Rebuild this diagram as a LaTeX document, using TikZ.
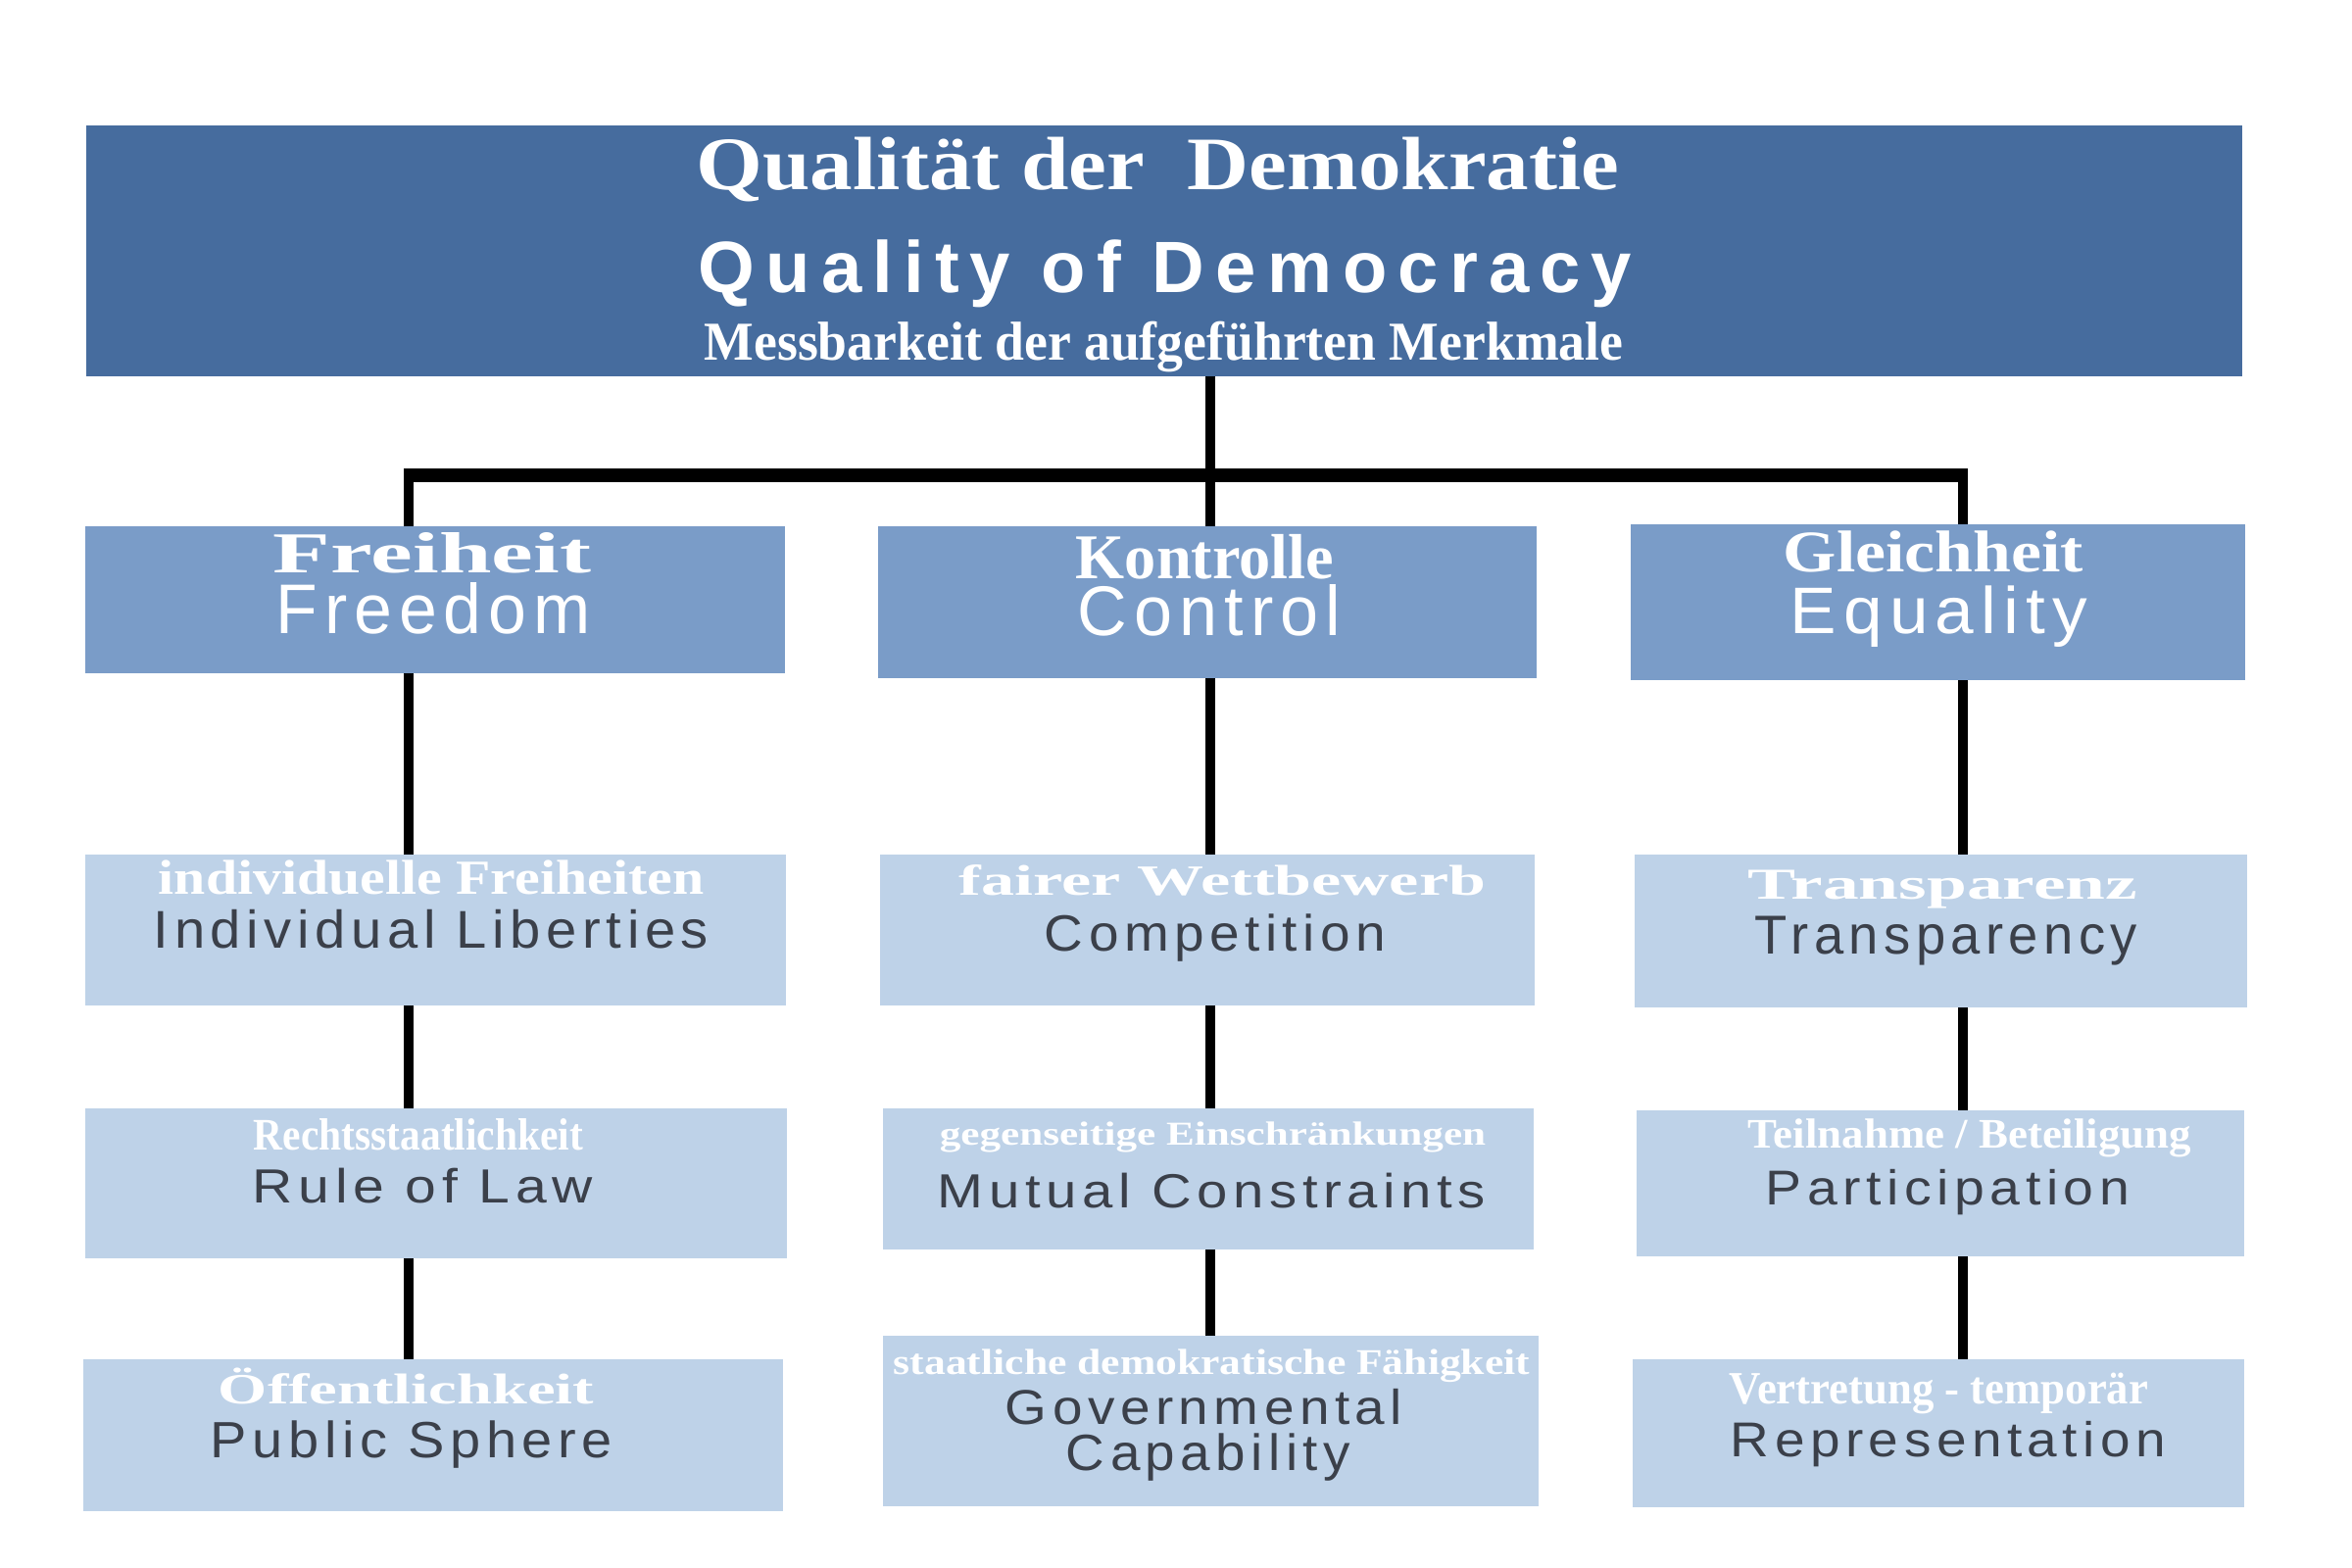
\documentclass[tikz,border=0pt]{standalone}
\usepackage{fontspec}
\usepackage{graphicx}
\setmainfont{Liberation Serif}
\newfontfamily\sansA[LetterSpace=10]{Liberation Sans}
\newfontfamily\sansB[LetterSpace=15]{Liberation Sans}
\newlength\fitlen
\newcommand\fitw[2]{\settowidth\fitlen{#2}\pgfmathsetmacro\fitr{#1*0.28453/\fitlen}\scalebox{\fitr}[1]{#2}}
\newcommand\fs[1]{\fontsize{#1}{#1}\selectfont}
\newcommand\DE[2]{\fs{#1}\bfseries #2}
\newcommand\EN[2]{\fs{#1}\sansA #2}
\newcommand\ENW[2]{\fs{#1}\sansB\bfseries #2}
\definecolor{c0}{HTML}{466C9E}
\definecolor{c1}{HTML}{7A9CC8}
\definecolor{c2}{HTML}{BED2E8}
\definecolor{dk}{HTML}{3B404A}
\tikzset{
  b0/.style={fill=c0, draw=none, inner sep=0pt, outer sep=0pt},
  b1/.style={fill=c1, draw=none, inner sep=0pt, outer sep=0pt},
  b2/.style={fill=c2, draw=none, inner sep=0pt, outer sep=0pt},
  txt/.style={anchor=base, inner sep=0pt, outer sep=0pt},
  conn/.style={draw=black, line width=2.85pt},
  barline/.style={draw=black, line width=3.7pt},
}
\begin{document}
\begin{tikzpicture}[x=0.01cm, y=-0.01cm]
\useasboundingbox (0,0) rectangle (2400,1600);
\fill[white] (0,0) rectangle (2400,1600);
% column coordinates
\coordinate (cL) at (417,0);
\coordinate (cM) at (1235,0);
\coordinate (cR) at (2003,0);
\coordinate (barL) at (412,485);
\coordinate (barR) at (2008,485);
% boxes
\node[b0, minimum width=21.98cm, minimum height=2.56cm] (top) at (1188,256) {};
\node[b1, minimum width=7.14cm, minimum height=1.50cm] (fr) at (444,612) {};
\node[b1, minimum width=6.72cm, minimum height=1.55cm] (ko) at (1232,614.5) {};
\node[b1, minimum width=6.27cm, minimum height=1.59cm] (gl) at (1977.5,614.5) {};
\node[b2, minimum width=7.15cm, minimum height=1.54cm] (il) at (444.5,949) {};
\node[b2, minimum width=6.68cm, minimum height=1.54cm] (co) at (1232,949) {};
\node[b2, minimum width=6.25cm, minimum height=1.56cm] (tr) at (1980.5,950) {};
\node[b2, minimum width=7.16cm, minimum height=1.53cm] (rl) at (445,1207.5) {};
\node[b2, minimum width=6.64cm, minimum height=1.44cm] (mc) at (1233,1203) {};
\node[b2, minimum width=6.20cm, minimum height=1.49cm] (pa) at (1980,1207.5) {};
\node[b2, minimum width=7.14cm, minimum height=1.55cm] (ps) at (442,1464.5) {};
\node[b2, minimum width=6.69cm, minimum height=1.74cm] (gc) at (1235.5,1450) {};
\node[b2, minimum width=6.24cm, minimum height=1.51cm] (re) at (1978,1462.5) {};
% connectors
\draw[conn] (top.south -| cM) -- (ko.north -| cM);
\draw[barline] (barL) -- (barR);
\draw[conn] (barL -| cL) -- (fr.north -| cL);
\draw[conn] (barR -| cR) -- (gl.north -| cR);
\draw[conn] (fr.south -| cL) -- (il.north -| cL);
\draw[conn] (il.south -| cL) -- (rl.north -| cL);
\draw[conn] (rl.south -| cL) -- (ps.north -| cL);
\draw[conn] (ko.south -| cM) -- (co.north -| cM);
\draw[conn] (co.south -| cM) -- (mc.north -| cM);
\draw[conn] (mc.south -| cM) -- (gc.north -| cM);
\draw[conn] (gl.south -| cR) -- (tr.north -| cR);
\draw[conn] (tr.south -| cR) -- (pa.north -| cR);
\draw[conn] (pa.south -| cR) -- (re.north -| cR);
% top texts
\node[txt, text=white] (t1) at (1181.5,193) {\fitw{941}{\DE{21.9pt}{Qualität der\ \ Demokratie}}};
\node[txt, text=white] (t2) at (1189,298) {\fitw{952}{\ENW{21.1pt}{Quality of Democracy}}};
\node[txt, text=white] (t3) at (1187.5,367) {\fitw{937}{\DE{15.9pt}{Messbarkeit der aufgeführten Merkmale}}};
% level 1
\node[txt, text=white] (fr1) at (441,584) {\fitw{324}{\DE{16.8pt}{Freiheit}}};
\node[txt, text=white] (fr2) at (442,646) {\fitw{321}{\EN{20.4pt}{Freedom}}};
\node[txt, text=white] (ko1) at (1229.5,590) {\fitw{263}{\DE{18.5pt}{Kontrolle}}};
\node[txt, text=white] (ko2) at (1234,648) {\fitw{268}{\EN{20.4pt}{Control}}};
\node[txt, text=white] (gl1) at (1973,583) {\fitw{306}{\DE{17.1pt}{Gleichheit}}};
\node[txt, text=white] (gl2) at (1978.5,646) {\fitw{303}{\EN{19.1pt}{Equality}}};
% level 2
\node[txt, text=white] (il1) at (440,912) {\fitw{556}{\DE{14.2pt}{individuelle Freiheiten}}};
\node[txt, text=dk] (il2) at (440,967) {\fitw{566}{\EN{15.4pt}{Individual Liberties}}};
\node[txt, text=white] (co1) at (1247.5,913) {\fitw{537}{\DE{12.5pt}{fairer Wettbewerb}}};
\node[txt, text=dk] (co2) at (1240,970) {\fitw{348}{\EN{14.8pt}{Competition}}};
\node[txt, text=white] (tr1) at (1982.5,917) {\fitw{397}{\DE{12.8pt}{Transparenz}}};
\node[txt, text=dk] (tr2) at (1986,973) {\fitw{390}{\EN{15.9pt}{Transparency}}};
% level 3
\node[txt, text=white] (rl1) at (427,1173) {\fitw{336}{\DE{13.1pt}{Rechtsstaatlichkeit}}};
\node[txt, text=dk] (rl2) at (431.5,1227) {\fitw{347}{\EN{13.9pt}{Rule of Law}}};
\node[txt, text=white] (mc1) at (1237.5,1168) {\fitw{557}{\DE{9.7pt}{gegenseitige Einschränkungen}}};
\node[txt, text=dk] (mc2) at (1236.5,1232) {\fitw{559}{\EN{13.9pt}{Mutual Constraints}}};
\node[txt, text=white] (pa1) at (2010,1171) {\fitw{452}{\DE{12.2pt}{Teilnahme / Beteiligung}}};
\node[txt, text=dk] (pa2) at (1987.5,1229) {\fitw{371}{\EN{14.2pt}{Participation}}};
% level 4
\node[txt, text=white] (ps1) at (414.5,1432) {\fitw{383}{\DE{12.5pt}{Öffentlichkeit}}};
\node[txt, text=dk] (ps2) at (420,1487) {\fitw{410}{\EN{14.8pt}{Public Sphere}}};
\node[txt, text=white] (gc1) at (1236.5,1402) {\fitw{649}{\DE{10.5pt}{staatliche demokratische Fähigkeit}}};
\node[txt, text=dk] (gc2) at (1228.5,1453) {\fitw{405}{\EN{14.2pt}{Governmental}}};
\node[txt, text=dk] (gc3) at (1233,1500) {\fitw{290}{\EN{14.8pt}{Capability}}};
\node[txt, text=white] (re1) at (1978.5,1432) {\fitw{427}{\DE{13.4pt}{Vertretung - temporär}}};
\node[txt, text=dk] (re2) at (1988,1486) {\fitw{444}{\EN{14.2pt}{Representation}}};
\end{tikzpicture}
\end{document}
